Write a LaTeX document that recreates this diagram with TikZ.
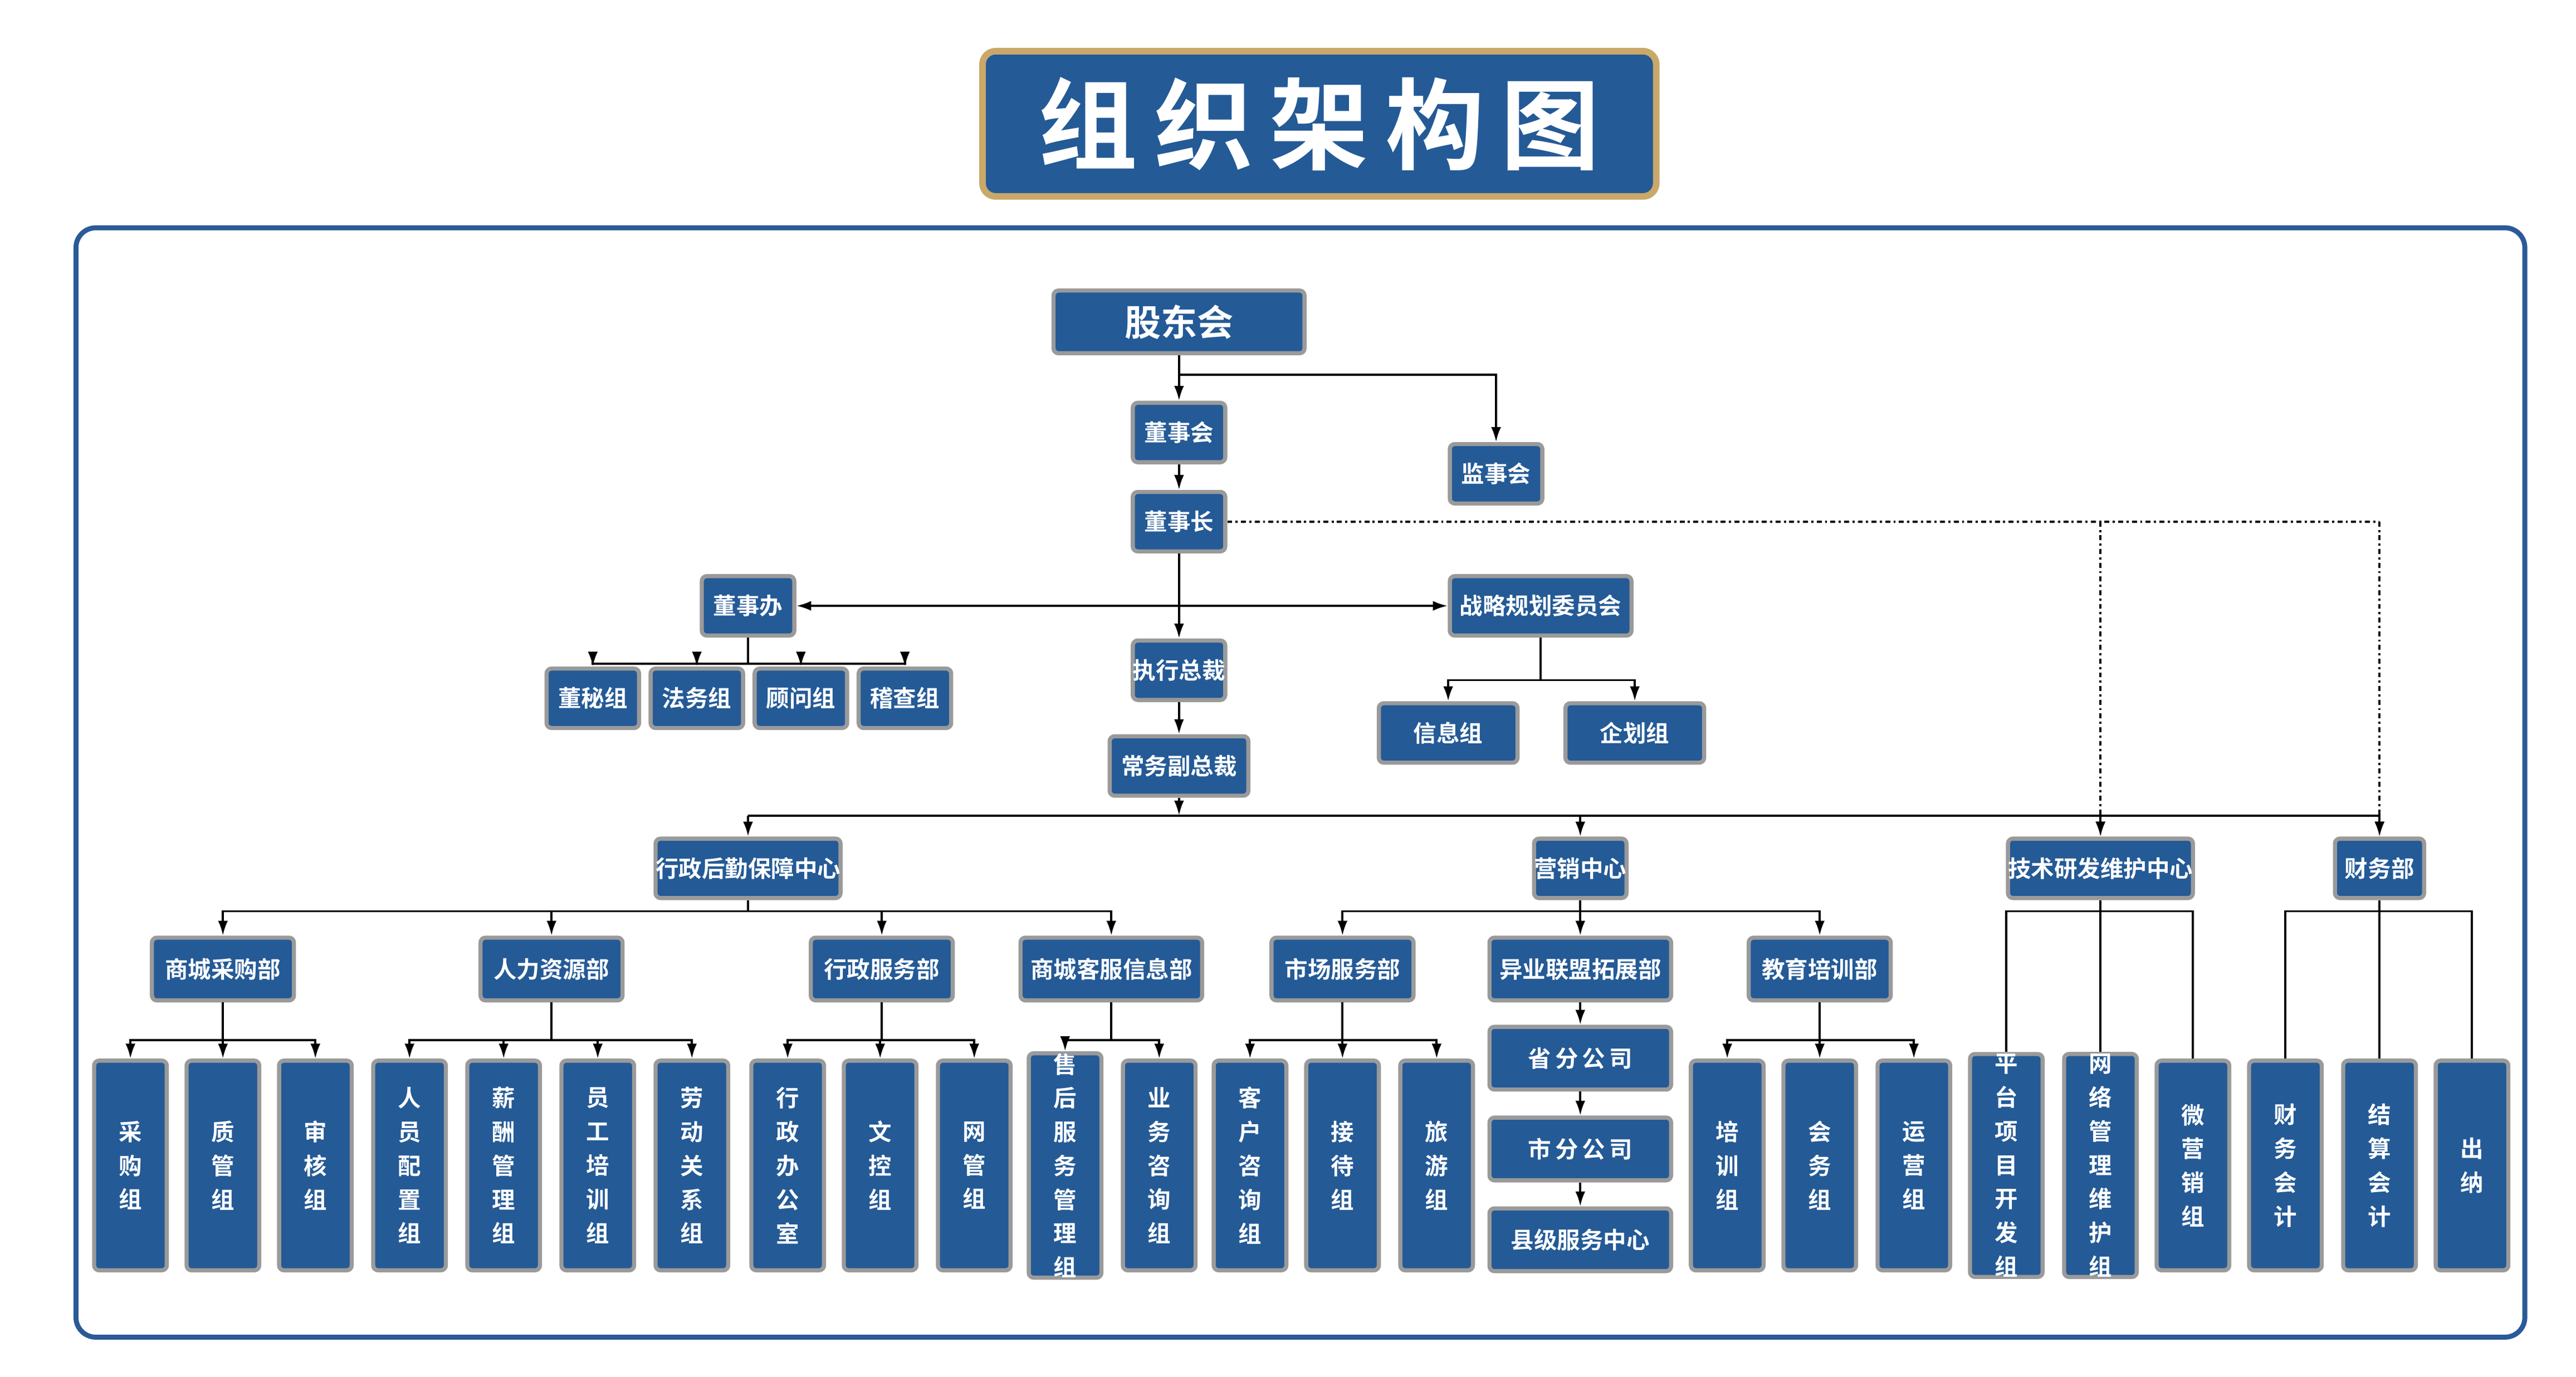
\documentclass[tikz,border=0pt]{standalone}
\usepackage{fontspec}
\newfontfamily\cjk{Noto Sans CJK SC}[BoldFont={Noto Sans CJK SC Bold}]
\usetikzlibrary{arrows.meta,positioning}
\definecolor{boxblue}{HTML}{245A96}
\definecolor{boxrim}{HTML}{9A9A9A}
\definecolor{gold}{HTML}{C9A86A}
\definecolor{framblue}{HTML}{2A5A98}
\begin{document}
\begin{tikzpicture}[x=1pt,y=-1pt,line width=1.3pt,
  arr/.style={-{Latex[length=9pt,width=6pt]}},
  box/.style={draw=boxrim,line width=2.5pt,fill=boxblue,rounded corners=3pt,text=white,
    font=\cjk\bfseries\fontsize{14}{16}\selectfont,inner sep=0pt,minimum height=36pt},
  leaf/.style={box,minimum width=44pt,minimum height=127pt,align=center,
    font=\cjk\bfseries\fontsize{14}{20.5}\selectfont}]
\useasboundingbox (0,0) rectangle (1560,834);

% title and frame
\node[draw=gold,line width=4pt,fill=boxblue,rounded corners=8pt,minimum width=408pt,minimum height=88pt,
  text=white,font=\cjk\bfseries\fontsize{60}{60}\selectfont] (title) at (799,75) {组\,织\,架\,构\,图};
\draw[framblue,line width=3pt,rounded corners=12pt] (46,138) rectangle (1529,810);

% top levels
\node[box,minimum width=152pt,minimum height=38pt,font=\cjk\bfseries\fontsize{22}{24}\selectfont] (gdh) at (714,195) {股东会};
\node[box,minimum width=56pt] (dsh) at (714,262) {董事会};
\node[box,minimum width=56pt] (jsh) at (906,287) {监事会};
\node[box,minimum width=56pt] (dsz) at (714,316) {董事长};
\node[box,minimum width=56pt] (dsb) at (453,367) {董事办};
\node[box,minimum width=110pt] (zlgh) at (933,367) {战略规划委员会};
\node[box,minimum width=56pt] (zxzc) at (714,406) {执行总裁};
\node[box,minimum width=84pt] (cwfz) at (714,464) {常务副总裁};
\node[box,minimum width=84pt] (xxz) at (877,444) {信息组};
\node[box,minimum width=84pt] (qhz) at (990,444) {企划组};
\foreach \x/\t/\n in {359/董秘组/dm,422/法务组/fw,485/顾问组/gw,548/稽查组/jc}
  \node[box,minimum width=56pt] (\n) at (\x,423) {\t};

% centres
\node[box,minimum width=110pt] (xzhq) at (453,526) {行政后勤保障中心};
\node[box,minimum width=54pt] (yxzx) at (957,526) {营销中心};
\node[box,minimum width=110pt] (jsyf) at (1272,526) {技术研发维护中心};
\node[box,minimum width=54pt] (cwb) at (1441,526) {财务部};

% departments
\foreach \x/\t/\w/\n in {135/商城采购部/86/cg,334/人力资源部/86/rl,534/行政服务部/86/xf,673/商城客服信息部/110/kf,
  813/市场服务部/86/sc,957/异业联盟拓展部/110/yy,1102/教育培训部/86/jy}
  \node[box,minimum width=\w pt,minimum height=38pt] (\n) at (\x,587) {\t};
\foreach \y/\t/\n in {641/省\,分\,公\,司/sf,696/市\,分\,公\,司/sf2,751/县级服务中心/xj}
  \node[box,minimum width=110pt,minimum height=38pt] (\n) at (957,\y) {\t};

% groups
\foreach \x/\t/\n in {79/{采\\购\\组}/g1,135/{质\\管\\组}/g2,191/{审\\核\\组}/g3,
  248/{人\\员\\配\\置\\组}/g4,305/{薪\\酬\\管\\理\\组}/g5,362/{员\\工\\培\\训\\组}/g6,419/{劳\\动\\关\\系\\组}/g7,
  477/{行\\政\\办\\公\\室}/g8,533/{文\\控\\组}/g9,590/{网\\管\\组}/g10,
  645/{售\\后\\服\\务\\管\\理\\组}/g11,702/{业\\务\\咨\\询\\组}/g12,
  757/{客\\户\\咨\\询\\组}/g13,813/{接\\待\\组}/g14,870/{旅\\游\\组}/g15,
  1046/{培\\训\\组}/g16,1102/{会\\务\\组}/g17,1159/{运\\营\\组}/g18,
  1215/{平\\台\\项\\目\\开\\发\\组}/g19,1272/{网\\络\\管\\理\\维\\护\\组}/g20,1328/{微\\营\\销\\组}/g21,
  1384/{财\\务\\会\\计}/g22,1441/{结\\算\\会\\计}/g23,1497/{出\\纳}/g24}
  \node[leaf] (\n) at (\x,706) {\t};

% connectors, top part
\draw[arr] (gdh) -- (dsh);
\draw[arr] (gdh.south) -- (714,227) -| (jsh.north);
\draw[arr] (dsh) -- (dsz);
\draw[arr] (dsz) -- (zxzc);
\draw[arr] (zxzc) -- (cwfz);
\draw[arr] (714,367) -- (dsb.east);
\draw[arr] (714,367) -- (zlgh.west);
\foreach \n in {dm,fw,gw,jc} \draw[arr] (dsb.south) -- (453,402) -| (\n.north);
\draw (zlgh.south) -- (933,412);
\foreach \n in {xxz,qhz} \draw[arr] (933,412) -| (\n.north);
\draw[arr] (cwfz.south) -- (714,494);
\foreach \n in {xzhq,yxzx,jsyf,cwb} \draw[arr] (453,494) -| (\n.north);
\draw (453,494) -- (1441,494);
\draw[dash dot] (dsz.east) -- (1441,316);
\draw[arr,dash dot] (1272,316) -- (jsyf.north);
\draw[arr,dash dot] (1441,316) -- (cwb.north);

% connectors, lower part
\foreach \n in {cg,rl,xf,kf} \draw[arr] (xzhq.south) -- (453,552) -| (\n.north);
\foreach \n in {sc,yy,jy} \draw[arr] (yxzx.south) -- (957,552) -| (\n.north);
\foreach \n in {g19,g20,g21} \draw (jsyf.south) -- (1272,552) -| (\n.north);
\foreach \n in {g22,g23,g24} \draw (cwb.south) -- (1441,552) -| (\n.north);
\foreach \p/\a/\b in {cg/g1/g3,rl/g4/g7,xf/g8/g10,kf/g11/g12,sc/g13/g15,jy/g16/g18}
  \draw (\a.north |- 0,630) -- (\b.north |- 0,630);
\foreach \p/\n in {cg/g1,cg/g2,cg/g3,rl/g4,rl/g5,rl/g6,rl/g7,xf/g8,xf/g9,xf/g10,kf/g11,kf/g12,
  sc/g13,sc/g14,sc/g15,jy/g16,jy/g17,jy/g18}
  \draw[arr] (\p.south) -- (\p.south |- 0,630) -| (\n.north);
\draw[arr] (yy) -- (sf);
\draw[arr] (sf) -- (sf2);
\draw[arr] (sf2) -- (xj);
\end{tikzpicture}
\end{document}
